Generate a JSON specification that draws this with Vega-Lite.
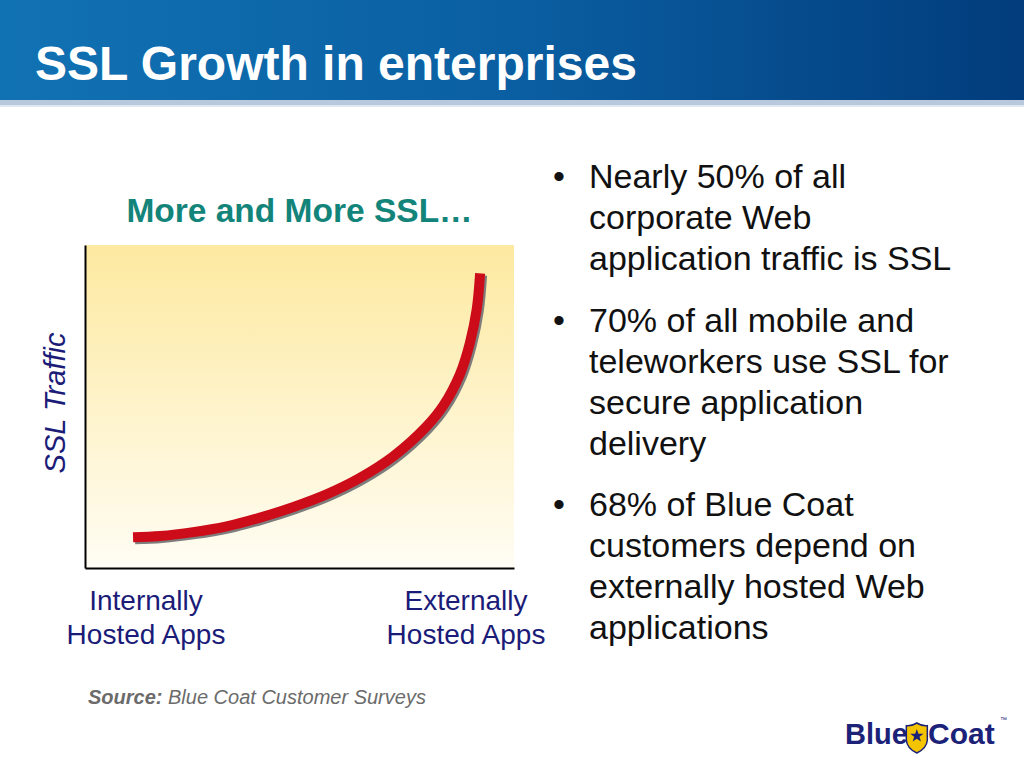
{
  "$schema": "https://vega.github.io/schema/vega-lite/v6.json",
  "width": 429,
  "height": 323,
  "autosize": {"type": "none"},
  "padding": {"left": 85, "top": 245, "right": 510, "bottom": 200},
  "background": "#ffffff",
  "config": {"font": "Liberation Sans", "view": {"stroke": null}},
  "datasets": {
    "curve": [
      {"hosting_position": 11.2, "ssl_traffic": 9.5},
      {"hosting_position": 17.5, "ssl_traffic": 9.9},
      {"hosting_position": 25.2, "ssl_traffic": 11.1},
      {"hosting_position": 33.0, "ssl_traffic": 12.9},
      {"hosting_position": 40.8, "ssl_traffic": 15.6},
      {"hosting_position": 48.6, "ssl_traffic": 18.9},
      {"hosting_position": 56.3, "ssl_traffic": 22.8},
      {"hosting_position": 64.1, "ssl_traffic": 27.9},
      {"hosting_position": 71.9, "ssl_traffic": 34.6},
      {"hosting_position": 79.6, "ssl_traffic": 43.8},
      {"hosting_position": 83.5, "ssl_traffic": 50.2},
      {"hosting_position": 87.4, "ssl_traffic": 60.0},
      {"hosting_position": 89.7, "ssl_traffic": 69.6},
      {"hosting_position": 91.3, "ssl_traffic": 80.0},
      {"hosting_position": 92.1, "ssl_traffic": 91.2}
    ]
  },
  "layer": [
    {
      "data": {"values": [{"part": "header"}]},
      "mark": {"type": "rect", "fill": {"gradient": "linear", "x1": 0, "y1": 0, "x2": 1, "y2": 0, "stops": [{"offset": 0, "color": "#1172b3"}, {"offset": 0.5, "color": "#0a5fa2"}, {"offset": 1, "color": "#023c7c"}]}},
      "encoding": {
        "x": {"datum": -20, "type": "quantitative", "scale": {"domain": [0, 100], "nice": false, "zero": false}},
        "x2": {"datum": 219},
        "y": {"datum": 176, "type": "quantitative", "scale": {"domain": [0, 100], "nice": false, "zero": false}},
        "y2": {"datum": 144.89}
      }
    },
    {
      "data": {"values": [{"part": "strip"}]},
      "mark": {"type": "rect", "fill": "#b9c9dd"},
      "encoding": {
        "x": {"datum": -20, "type": "quantitative"},
        "x2": {"datum": 219},
        "y": {"datum": 144.89, "type": "quantitative"},
        "y2": {"datum": 143.34}
      }
    },
    {
      "data": {"values": [{"part": "strip2"}]},
      "mark": {"type": "rect", "fill": "#e2e8f0"},
      "encoding": {
        "x": {"datum": -20, "type": "quantitative"},
        "x2": {"datum": 219},
        "y": {"datum": 143.34, "type": "quantitative"},
        "y2": {"datum": 142.72}
      }
    },
    {
      "data": {"values": [{"label": "SSL Growth in enterprises"}]},
      "mark": {"type": "text", "align": "left", "baseline": "alphabetic", "fontSize": 48, "fontWeight": "bold", "color": "#ffffff"},
      "encoding": {
        "x": {"datum": -11.66, "type": "quantitative"},
        "y": {"datum": 151.08, "type": "quantitative"},
        "text": {"field": "label"}
      }
    },
    {
      "data": {"values": [{"part": "plot background"}]},
      "mark": {"type": "rect", "fill": {"gradient": "linear", "x1": 0, "y1": 0, "x2": 0, "y2": 1, "stops": [{"offset": 0, "color": "#fde9a0"}, {"offset": 1, "color": "#fffdf4"}]}},
      "encoding": {
        "x": {"datum": 0, "type": "quantitative"},
        "x2": {"datum": 100},
        "y": {"datum": 100, "type": "quantitative"},
        "y2": {"datum": 0}
      }
    },
    {
      "data": {"name": "curve"},
      "mark": {"type": "line", "color": "#7d7d7d", "strokeWidth": 10, "strokeCap": "butt", "interpolate": "catmull-rom", "xOffset": 2, "yOffset": 2},
      "encoding": {
        "x": {"field": "hosting_position", "type": "quantitative", "scale": {"domain": [0, 100], "nice": false, "zero": false},
          "axis": {"title": null, "labels": false, "ticks": false, "grid": false, "domainColor": "#000000", "domainWidth": 2, "zindex": 1}},
        "y": {"field": "ssl_traffic", "type": "quantitative", "scale": {"domain": [0, 100], "nice": false, "zero": false},
          "axis": {"title": "SSL Traffic", "labels": false, "ticks": false, "grid": false, "domainColor": "#000000", "domainWidth": 2, "zindex": 1,
            "titleFontSize": 29, "titleFontStyle": "italic", "titleFontWeight": "normal", "titleColor": "#1b1b78", "titlePadding": 15, "titleY": 157.5, "titleFont": "Liberation Sans"}}
      }
    },
    {
      "data": {"name": "curve"},
      "mark": {"type": "line", "color": "#cc0c18", "strokeWidth": 10, "strokeCap": "butt", "interpolate": "catmull-rom"},
      "encoding": {
        "x": {"field": "hosting_position", "type": "quantitative"},
        "y": {"field": "ssl_traffic", "type": "quantitative"}
      }
    },
    {
      "data": {"values": [{"label": "More and More SSL…"}]},
      "mark": {"type": "text", "align": "center", "baseline": "alphabetic", "fontSize": 33.5, "fontWeight": "bold", "color": "#12847a"},
      "encoding": {
        "x": {"datum": 50, "type": "quantitative"},
        "y": {"datum": 107.12, "type": "quantitative"},
        "text": {"field": "label"}
      }
    },
    {
      "data": {"values": [{"label": "Internally\nHosted Apps"}]},
      "mark": {"type": "text", "align": "center", "baseline": "alphabetic", "fontSize": 28, "lineHeight": 34, "lineBreak": "\n", "color": "#1b1b78"},
      "encoding": {
        "x": {"datum": 14.22, "type": "quantitative"},
        "y": {"datum": -13.0, "type": "quantitative"},
        "text": {"field": "label"}
      }
    },
    {
      "data": {"values": [{"label": "Externally\nHosted Apps"}]},
      "mark": {"type": "text", "align": "center", "baseline": "alphabetic", "fontSize": 28, "lineHeight": 34, "lineBreak": "\n", "color": "#1b1b78"},
      "encoding": {
        "x": {"datum": 88.81, "type": "quantitative"},
        "y": {"datum": -13.0, "type": "quantitative"},
        "text": {"field": "label"}
      }
    },
    {
      "data": {"values": [{"label": "Nearly 50% of all\ncorporate Web\napplication traffic is SSL"}]},
      "mark": {"type": "text", "align": "left", "baseline": "alphabetic", "fontSize": 34, "lineHeight": 41, "lineBreak": "\n", "color": "#111111"},
      "encoding": {
        "x": {"datum": 117.48, "type": "quantitative"},
        "y": {"datum": 117.65, "type": "quantitative"},
        "text": {"field": "label"}
      }
    },
    {
      "data": {"values": [{"label": "70% of all mobile and\nteleworkers use SSL for\nsecure application\ndelivery"}]},
      "mark": {"type": "text", "align": "left", "baseline": "alphabetic", "fontSize": 34, "lineHeight": 41, "lineBreak": "\n", "color": "#111111"},
      "encoding": {
        "x": {"datum": 117.48, "type": "quantitative"},
        "y": {"datum": 73.07, "type": "quantitative"},
        "text": {"field": "label"}
      }
    },
    {
      "data": {"values": [{"label": "68% of Blue Coat\ncustomers depend on\nexternally hosted Web\napplications"}]},
      "mark": {"type": "text", "align": "left", "baseline": "alphabetic", "fontSize": 34, "lineHeight": 41, "lineBreak": "\n", "color": "#111111"},
      "encoding": {
        "x": {"datum": 117.48, "type": "quantitative"},
        "y": {"datum": 16.1, "type": "quantitative"},
        "text": {"field": "label"}
      }
    },
    {
      "data": {"values": [{"bullet": "•", "level": 117.65}, {"bullet": "•", "level": 73.07}, {"bullet": "•", "level": 16.1}]},
      "mark": {"type": "text", "align": "center", "baseline": "alphabetic", "fontSize": 34, "color": "#111111"},
      "encoding": {
        "x": {"datum": 110.49, "type": "quantitative"},
        "y": {"field": "level", "type": "quantitative"},
        "text": {"field": "bullet"}
      }
    },
    {
      "data": {"values": [{"label": "Source:"}]},
      "mark": {"type": "text", "align": "left", "baseline": "alphabetic", "fontSize": 20, "fontWeight": "bold", "fontStyle": "italic", "color": "#6b6b6b"},
      "encoding": {
        "x": {"datum": 0.7, "type": "quantitative"},
        "y": {"datum": -42.11, "type": "quantitative"},
        "text": {"field": "label"}
      }
    },
    {
      "data": {"values": [{"label": "Blue Coat Customer Surveys"}]},
      "mark": {"type": "text", "align": "left", "baseline": "alphabetic", "fontSize": 20, "fontStyle": "italic", "color": "#6b6b6b"},
      "encoding": {
        "x": {"datum": 19.35, "type": "quantitative"},
        "y": {"datum": -42.11, "type": "quantitative"},
        "text": {"field": "label"}
      }
    },
    {
      "data": {"values": [{"label": "Blue"}]},
      "mark": {"type": "text", "align": "left", "baseline": "alphabetic", "fontSize": 29, "fontWeight": "bold", "color": "#1b2278"},
      "encoding": {
        "x": {"datum": 177.16, "type": "quantitative"},
        "y": {"datum": -54.49, "type": "quantitative"},
        "text": {"field": "label"}
      }
    },
    {
      "data": {"values": [{"label": "Coat"}]},
      "mark": {"type": "text", "align": "left", "baseline": "alphabetic", "fontSize": 30, "fontWeight": "bold", "color": "#1b2278"},
      "encoding": {
        "x": {"datum": 196.5, "type": "quantitative"},
        "y": {"datum": -54.49, "type": "quantitative"},
        "text": {"field": "label"}
      }
    },
    {
      "data": {"values": [{"label": "™"}]},
      "mark": {"type": "text", "align": "left", "baseline": "alphabetic", "fontSize": 7, "color": "#1b2278"},
      "encoding": {
        "x": {"datum": 213.3, "type": "quantitative"},
        "y": {"datum": -47.68, "type": "quantitative"},
        "text": {"field": "label"}
      }
    },
    {
      "data": {"values": [{"part": "shield"}]},
      "mark": {"type": "point", "filled": true, "shape": "M -0.7 -0.82 Q -0.35 -0.78 0 -1 Q 0.35 -0.78 0.7 -0.82 L 0.7 0.15 Q 0.65 0.7 0 1 Q -0.65 0.7 -0.7 0.15 Z", "size": 900, "fill": "#f5c400", "stroke": "#1b2278", "strokeWidth": 1.5, "opacity": 1},
      "encoding": {
        "x": {"datum": 193.9, "type": "quantitative"},
        "y": {"datum": -52.63, "type": "quantitative"}
      }
    },
    {
      "data": {"values": [{"part": "star"}]},
      "mark": {"type": "point", "filled": true, "shape": "M0,-1 L0.235,-0.324 L0.951,-0.309 L0.38,0.124 L0.588,0.809 L0,0.4 L-0.588,0.809 L-0.38,0.124 L-0.951,-0.309 L-0.235,-0.324 Z", "size": 196, "fill": "#1b2278", "strokeWidth": 0, "opacity": 1},
      "encoding": {
        "x": {"datum": 193.9, "type": "quantitative"},
        "y": {"datum": -52.0, "type": "quantitative"}
      }
    }
  ]
}
